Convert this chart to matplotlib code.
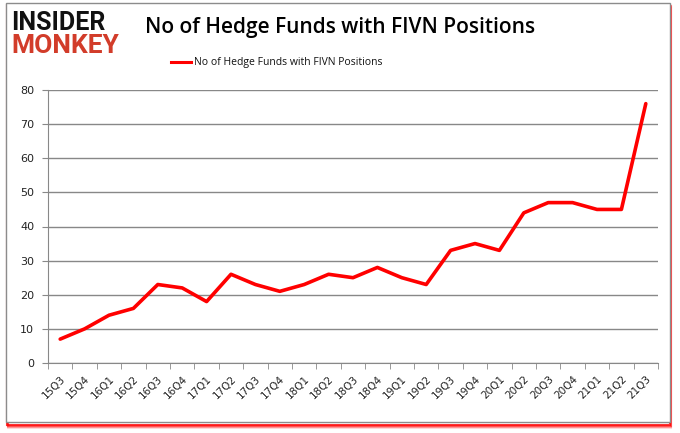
import matplotlib
matplotlib.use("Agg")
import matplotlib.pyplot as plt
from matplotlib.patches import Rectangle
import numpy as np

quarters = ["15Q3", "15Q4", "16Q1", "16Q2", "16Q3", "16Q4", "17Q1", "17Q2", "17Q3", "17Q4",
            "18Q1", "18Q2", "18Q3", "18Q4", "19Q1", "19Q2", "19Q3", "19Q4", "20Q1", "20Q2",
            "20Q3", "20Q4", "21Q1", "21Q2", "21Q3"]
funds = [7, 10, 14, 16, 23, 22, 18, 26, 23, 21,
         23, 26, 25, 28, 25, 23, 33, 35, 33, 44,
         47, 47, 45, 45, 76]
yticks = [0, 10, 20, 30, 40, 50, 60, 70, 80]
title = "No of Hedge Funds with FIVN Positions"
series_name = "No of Hedge Funds with FIVN Positions"

W, H = 680, 433
fig = plt.figure(figsize=(W / 100, H / 100), dpi=100)
fig.patch.set_facecolor("white")

# outer frame with red shadow
for i, a in enumerate([0.15, 0.3, 0.5, 0.8]):
    off = 4 - i
    fig.patches.append(Rectangle(((7 + off * 0.3) / W, 1 - (424 + off) / H), (663) / W, (420) / H,
                                 transform=fig.transFigure, facecolor="none",
                                 edgecolor=(1, 0, 0, a), lw=1.5, zorder=0))
fig.patches.append(Rectangle((6 / W, 1 - 422 / H), 664 / W, 419 / H, transform=fig.transFigure,
                             facecolor="white", edgecolor="#8c8c8c", lw=1.0, zorder=1))

ax = fig.add_axes([48 / W, 1 - 363 / H, 610 / W, 273 / H])
ax.set_zorder(2)
x = np.arange(len(quarters))
ax.plot(x, funds, color="#ff0000", lw=2.6, solid_joinstyle="round", solid_capstyle="round",
        label=series_name, zorder=3)
ax.set_xlim(-0.5, len(quarters) - 0.5)
ax.set_ylim(0, 80)
ax.set_yticks(yticks)
ax.set_yticklabels([str(v) for v in yticks], fontsize=8, color="#222222", family="DejaVu Sans")
ax.grid(axis="y", color="#888888", lw=1.0)
ax.set_axisbelow(True)
ax.set_xticks(x)
ax.set_xticklabels(quarters, rotation=45, fontsize=7.5, color="#222222", ha="right",
                   rotation_mode="anchor", family="DejaVu Sans")
ax.tick_params(axis="x", length=0, pad=8)
ax.set_xticks(np.arange(-0.5, len(quarters)), minor=True)
ax.tick_params(axis="x", which="minor", length=4, color="#888888")
ax.tick_params(axis="y", length=4, color="#888888", pad=6)
for s in ["top", "right"]:
    ax.spines[s].set_visible(False)
ax.spines["left"].set_color("#888888")
ax.spines["bottom"].set_color("#888888")

fig.text(340 / W, 1 - 28 / H, title, ha="center", va="center", fontsize=15,
         family="Open Sans", weight="semibold", color="#000000")
# legend
fig.lines.append(plt.Line2D([171 / W, 191 / W], [1 - 62 / H, 1 - 62 / H], transform=fig.transFigure,
                            color="#ff0000", lw=2.2))
fig.text(194 / W, 1 - 62 / H, series_name, ha="left", va="center", fontsize=7.5,
         family="Open Sans", color="#111111")

# logo
fig.text(11 / W, 1 - 29.5 / H, "INSIDER", ha="left", va="baseline", fontsize=18,
         family="Roboto", weight="bold", color="#111111")
fig.text(11 / W, 1 - 53 / H, "MONKEY", ha="left", va="baseline", fontsize=19,
         family="Roboto", weight="bold", color="#d23c2a")

fig.savefig("out.png", dpi=100, facecolor="white")
